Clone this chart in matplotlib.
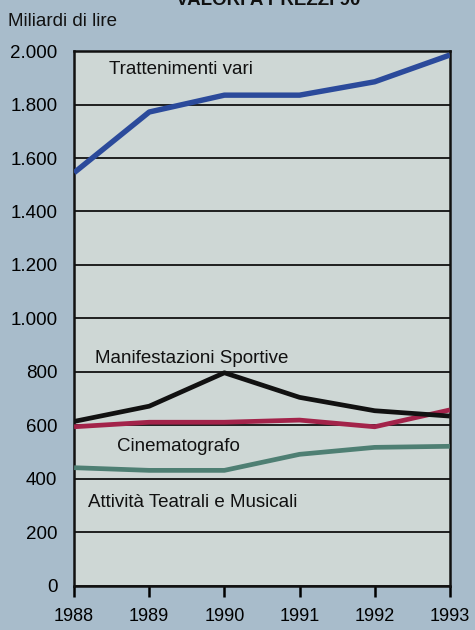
import matplotlib
matplotlib.use("Agg")
import matplotlib.pyplot as plt
from matplotlib.ticker import FuncFormatter

plt.rcParams['font.family'] = ['Liberation Sans', 'DejaVu Sans']

### data (miliardi di lire, valori a prezzi 90)
years = [1988, 1989, 1990, 1991, 1992, 1993]
trattenimenti = [1545, 1772, 1835, 1835, 1885, 1985]
sportive = [615, 672, 797, 705, 655, 635]
teatrali = [595, 612, 612, 620, 595, 658]
cinema = [442, 432, 432, 492, 518, 522]

y_ticks = [0, 200, 400, 600, 800, 1000, 1200, 1400, 1600, 1800, 2000]

# colours
outer_bg = "#a8bccb"
plot_bg = "#ced7d5"

fig = plt.figure(figsize=(4.75, 6.3), dpi=100, facecolor=outer_bg)
ax = fig.add_axes([0.156, 0.070, 0.791, 0.849])
ax.set_facecolor(plot_bg)

# lines
ax.plot(years, cinema, color="#4e7f73", linewidth=3.4, solid_capstyle='butt', zorder=3)
ax.plot(years, teatrali, color="#a3234a", linewidth=3.4, solid_capstyle='butt', zorder=4)
ax.plot(years, sportive, color="#111111", linewidth=3.4, solid_capstyle='butt', zorder=5)
ax.plot(years, trattenimenti, color="#2b4a9b", linewidth=3.9, solid_capstyle='butt', zorder=5)

# series labels
lab = dict(fontsize=13.5, color="#111111", ha='left', va='center', zorder=6)
ax.text(1988.47, 1930, "Trattenimenti vari", **lab)
ax.text(1988.28, 852, "Manifestazioni Sportive", **lab)
ax.text(1988.57, 521, "Cinematografo", **lab)
ax.text(1988.18, 310, "Attività Teatrali e Musicali", **lab)

# axes
ax.set_xlim(1988, 1993)
ax.set_ylim(0, 2000)
ax.set_yticks(y_ticks)
ax.yaxis.set_major_formatter(FuncFormatter(lambda v, p: f"{int(v):,}".replace(",", ".")))
ax.set_xticks(years)
ax.grid(axis='y', color="#111111", linewidth=1.3, zorder=1)
ax.set_axisbelow(True)
for s in ax.spines.values():
    s.set_linewidth(1.8)
    s.set_color("#111111")

ax.tick_params(axis='y', length=0, pad=12, labelsize=13.5)
ax.tick_params(axis='x', direction='out', length=8, width=1.8, pad=8, labelsize=13)

# title (cut off at the top) and unit
fig.text(0.565, 1 - 5 / 630, "VALORI A PREZZI 90", ha='center', va='baseline',
         fontsize=13.5, fontweight='bold', color="#111111")
fig.text(8 / 475, 1 - 22 / 630, "Miliardi di lire", ha='left', va='center',
         fontsize=13.5, color="#111111")

fig.savefig("out.png", dpi=100, facecolor=outer_bg)
